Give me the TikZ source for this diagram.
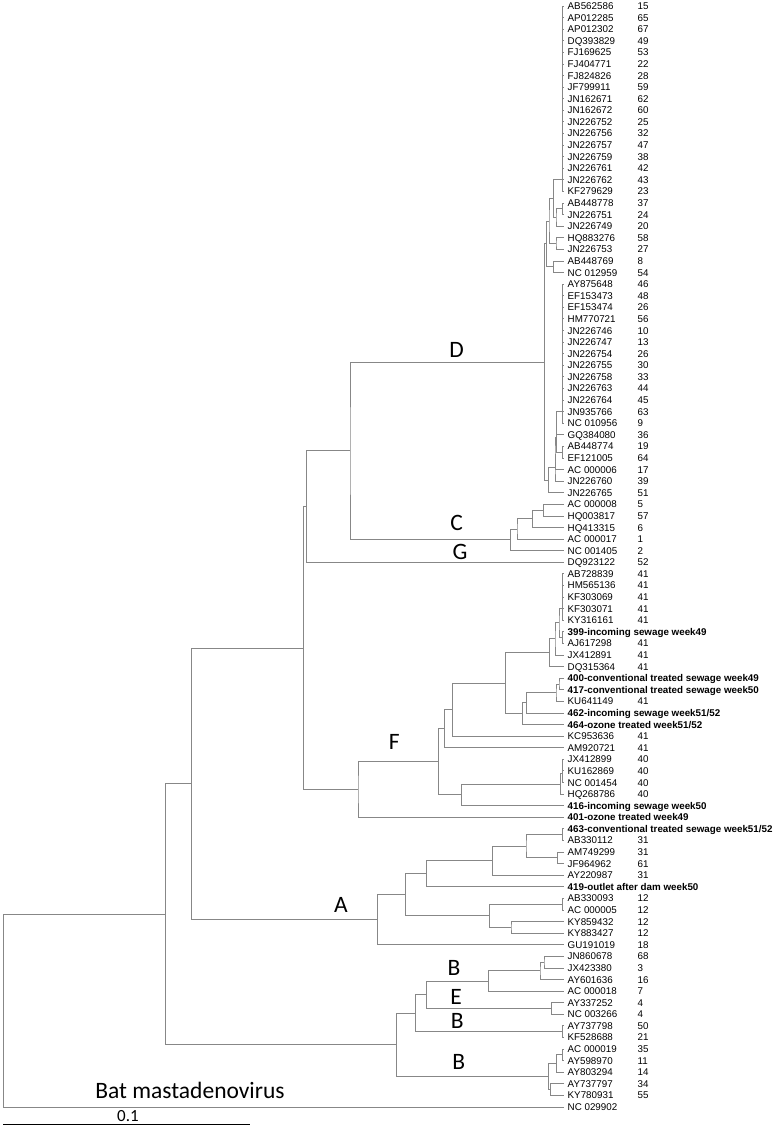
\documentclass[tikz,border=0pt]{standalone}
\usepackage{fontspec}
\setmainfont{Liberation Sans}
\newfontfamily\cladefont{Carlito}
\usetikzlibrary{calc, math}
\definecolor{treegray}{RGB}{135,135,135}

\tikzset{
branch/.style={draw=treegray, line width=0.85pt},
acc/.style={anchor=base west, inner sep=0pt, font=\fontsize{9.8}{11}\selectfont},
sample/.style={acc, font=\fontsize{9.8}{11}\selectfont\bfseries},
cladelab/.style={inner sep=0pt, font=\cladefont\fontsize{23.5}{26}\selectfont},
}

% internal node: name, x, upper child, lower child
\newcommand\clade[4]{%
\path let \p1=(#3), \p2=(#4) in (#2pt,{(\y1+\y2)/2}) coordinate (#1);
\draw[branch] (#3) -| (#1) |- (#4);
}

\begin{document}
\begin{tikzpicture}[x=1pt, y=-1pt]
\tikzmath{
\tipx=564; \labx=567.5; \numx=637.5; \dy=11.5895;
}
\useasboundingbox (0,0) rectangle (777,1128);

\foreach \r in {1,...,96}{
\coordinate (t\r) at (\tipx,{6+(\r-1)*\dy});
}

% reference strains
\foreach \r/\acc/\typ in {
1/AB562586/15, 2/AP012285/65, 3/AP012302/67, 4/DQ393829/49, 5/FJ169625/53,
6/FJ404771/22, 7/FJ824826/28, 8/JF799911/59, 9/JN162671/62, 10/JN162672/60,
11/JN226752/25, 12/JN226756/32, 13/JN226757/47, 14/JN226759/38, 15/JN226761/42,
16/JN226762/43, 17/KF279629/23, 18/AB448778/37, 19/JN226751/24, 20/JN226749/20,
21/HQ883276/58, 22/JN226753/27, 23/AB448769/8, 24/NC 012959/54, 25/AY875648/46,
26/EF153473/48, 27/EF153474/26, 28/HM770721/56, 29/JN226746/10, 30/JN226747/13,
31/JN226754/26, 32/JN226755/30, 33/JN226758/33, 34/JN226763/44, 35/JN226764/45,
36/JN935766/63, 37/NC 010956/9, 38/GQ384080/36, 39/AB448774/19, 40/EF121005/64,
41/AC 000006/17, 42/JN226760/39, 43/JN226765/51, 44/AC 000008/5, 45/HQ003817/57,
46/HQ413315/6, 47/AC 000017/1, 48/NC 001405/2, 49/DQ923122/52, 50/AB728839/41,
51/HM565136/41, 52/KF303069/41, 53/KF303071/41, 54/KY316161/41, 56/AJ617298/41,
57/JX412891/41, 58/DQ315364/41, 61/KU641149/41, 64/KC953636/41, 65/AM920721/41,
66/JX412899/40, 67/KU162869/40, 68/NC 001454/40, 69/HQ268786/40, 73/AB330112/31,
74/AM749299/31, 75/JF964962/61, 76/AY220987/31, 78/AB330093/12, 79/AC 000005/12,
80/KY859432/12, 81/KY883427/12, 82/GU191019/18, 83/JN860678/68, 84/JX423380/3,
85/AY601636/16, 86/AC 000018/7, 87/AY337252/4, 88/NC 003266/4, 89/AY737798/50,
90/KF528688/21, 91/AC 000019/35, 92/AY598970/11, 93/AY803294/14, 94/AY737797/34,
95/KY780931/55}{
\node[acc] (l\r) at (\labx,{6+(\r-1)*\dy+3.5}) {\acc};
\node[acc] (n\r) at (\numx,{6+(\r-1)*\dy+3.5}) {\typ};
}
\node[acc] (l96) at (\labx,{6+95*\dy+3.5}) {NC 029902};

% sewage samples
\foreach \r/\smp in {55/{399-incoming sewage week49}, 59/{400-conventional treated sewage week49},
60/{417-conventional treated sewage week50}, 62/{462-incoming sewage week51/52},
63/{464-ozone treated week51/52}, 70/{416-incoming sewage week50}, 71/{401-ozone treated week49},
72/{463-conventional treated sewage week51/52}, 77/{419-outlet after dam week50}}{
\node[sample] (l\r) at (\labx,{6+(\r-1)*\dy+3.5}) {\smp};
}

% D
\coordinate (K1) at (562.7,179);
\foreach \r in {1,...,17}{
\draw[branch] (K1) |- (t\r);
}
\clade{Daa}{562.7}{t18}{t19}
\clade{Da}{556}{Daa}{t20}
\clade{Db}{553.3}{K1}{Da}
\clade{Dc}{556}{t21}{t22}
\clade{Dd}{549}{Db}{Dc}
\clade{De}{553.3}{t23}{t24}
\clade{Df}{546.7}{Dd}{De}
\coordinate (K2) at (562.7,411.6);
\foreach \r in {25,...,37}{
\draw[branch] (K2) |- (t\r);
}
\clade{Dg}{556.7}{K2}{t38}
\clade{Dp}{562.7}{t39}{t40}
\clade{Dh}{556.7}{Dg}{Dp}
\clade{Di}{555}{Dh}{t41}
\clade{Dj}{555}{Di}{t42}
\clade{Dl}{548.3}{Dj}{t43}
\clade{D}{544.3}{Df}{Dl}

% C and G
\clade{C3}{543.3}{t44}{t45}
\clade{C2}{532.3}{C3}{t46}
\clade{C1}{517}{C2}{t47}
\clade{C}{510.7}{C1}{t48}
\clade{DC}{350}{D}{C}
\clade{X4}{306.3}{DC}{t49}

% F
\coordinate (K3) at (562.7,608);
\foreach \r in {50,...,54}{
\draw[branch] (K3) |- (t\r);
}
\clade{Fa}{562.7}{t55}{t56}
\clade{Fb}{559}{K3}{Fa}
\clade{Fc}{555}{Fb}{t57}
\clade{Fd}{549.3}{Fc}{t58}
\clade{Fe}{559}{t59}{t60}
\clade{Fg}{556}{Fe}{t61}
\clade{Fh}{526.7}{Fg}{t62}
\clade{Fi}{522.3}{Fh}{t63}
\clade{Fj}{505.3}{Fd}{Fi}
\clade{Fk}{452.3}{Fj}{t64}
\clade{Fl}{444.7}{Fk}{t65}
\clade{Fm}{562.7}{t66}{t67}
\clade{Fn}{562.7}{Fm}{t68}
\clade{Fo}{560.7}{Fn}{t69}
\clade{Fp}{461.3}{Fo}{t70}
\clade{Fq}{438.3}{Fl}{Fp}
\clade{F}{358}{Fq}{t71}
\clade{X3}{303.7}{X4}{F}

% A
\clade{Aa}{562.3}{t72}{t73}
\clade{Ab}{557.3}{t74}{t75}
\clade{Ac}{526}{Aa}{Ab}
\clade{Ad}{492.3}{Ac}{t76}
\clade{Ae}{426.3}{Ad}{t77}
\clade{Af}{562.3}{t78}{t79}
\clade{Ag}{511}{t80}{t81}
\clade{Ah}{489.3}{Af}{Ag}
\clade{Ai}{405.7}{Ae}{Ah}
\clade{A}{377.3}{Ai}{t82}
\clade{X2}{191.7}{X3}{A}

% B and E
\clade{Ba}{544}{t83}{t84}
\clade{Bb}{540}{Ba}{t85}
\clade{Bc}{488.3}{Bb}{t86}
\clade{E}{551.7}{t87}{t88}
\clade{Bd}{426.7}{Bc}{E}
\clade{Be}{562.3}{t89}{t90}
\clade{Bf}{415.7}{Bd}{Be}
\clade{Bg}{562.3}{t91}{t92}
\clade{Bh}{556.7}{Bg}{t93}
\clade{Bi}{550.7}{t94}{t95}
\clade{Bj}{548.3}{Bh}{Bi}
\clade{B}{396.3}{Bf}{Bj}
\clade{X1}{165.7}{X2}{B}
\clade{R}{3.5}{X1}{t96}

% clade letters
\node[cladelab] (labD) at (456.5,350) {D};
\node[cladelab] (labC) at (456.7,523.3) {C};
\node[cladelab] (labG) at (460,551.7) {G};
\node[cladelab] (labF) at (394.3,741.7) {F};
\node[cladelab] (labA) at (341,905) {A};
\node[cladelab] (labB1) at (454,967.7) {B};
\node[cladelab] (labE) at (456,996.7) {E};
\node[cladelab] (labB2) at (457.3,1020.7) {B};
\node[cladelab] (labB3) at (458.7,1062.3) {B};
\node[cladelab] (bat) at (190,1090) {Bat mastadenovirus};

% scale
\coordinate (sb0) at (3,1124.5);
\coordinate (sb1) at (250,1124.5);
\draw[line width=1.2pt] (sb0) -- (sb1);
\node[inner sep=0pt, font=\cladefont\fontsize{17}{19}\selectfont] (sblab) at (128,1116.5) {0.1};
\end{tikzpicture}
\end{document}
